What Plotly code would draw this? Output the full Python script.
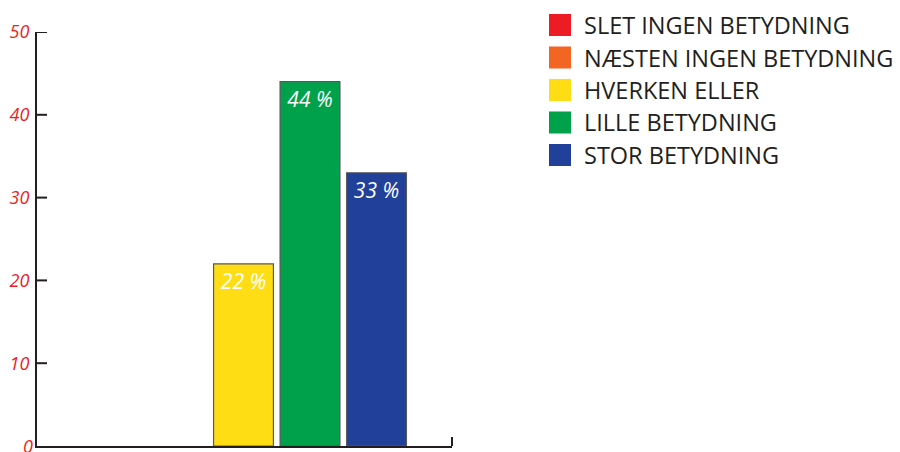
import plotly.graph_objects as go

categories = ["SLET INGEN BETYDNING", "NÆSTEN INGEN BETYDNING", "HVERKEN ELLER",
              "LILLE BETYDNING", "STOR BETYDNING"]
values = [0, 0, 22, 44, 33]
colors = ["#ED1C24", "#F26522", "#FFDD15", "#00A14B", "#21409A"]
y_ticks = [0, 10, 20, 30, 40, 50]

W, H = 900, 452
L, R, T, B = 37, 452, 32, 446  # plot area in pixels

fig = go.Figure()
xs = list(range(len(categories)))
labels = [f"{v} %" if v > 0 else "" for v in values]
line_w = [1.2 if v > 0 else 0 for v in values]
fig.add_trace(go.Bar(
    x=xs, y=values, marker=dict(color=colors, line=dict(color="#58595B", width=line_w)),
    width=0.9, text=labels, textposition="inside", insidetextanchor="end",
    textangle=0,
    textfont=dict(family="Open Sans", size=21, color="white", style="italic"),
    cliponaxis=False, hoverinfo="skip", showlegend=False,
))

shapes = []
annotations = []
pw = R - L
ph = B - T
def px(xp):
    return (xp - L) / pw
def py(yp):
    return (B - yp) / ph

# legend
leg_x0, leg_sq = 549, 22
leg_y0, leg_dy = 14, 32.5
for i, (c, col) in enumerate(zip(categories, colors)):
    y0 = leg_y0 + i * leg_dy
    shapes.append(dict(type="rect", xref="paper", yref="paper",
                       x0=px(leg_x0), x1=px(leg_x0 + leg_sq), y0=py(y0 + leg_sq), y1=py(y0),
                       fillcolor=col, line=dict(width=0)))
    annotations.append(dict(xref="paper", yref="paper", x=px(582), y=py(y0 + leg_sq / 2),
                            text=c, showarrow=False, xanchor="left", yanchor="middle",
                            font=dict(family="Open Sans", size=23.5, color="#231F20")))

# inward y ticks (drawn as short lines at the tick values)
for t in y_ticks[1:]:
    shapes.append(dict(type="line", xref="paper", yref="y", x0=0, x1=10 / pw, y0=t, y1=t,
                       line=dict(color="#231F20", width=2)))
# bottom tick label (sits at the figure's lower edge)
annotations.append(dict(xref="paper", yref="y", x=0, y=y_ticks[0], xshift=-2, text=str(y_ticks[0]),
                        showarrow=False, xanchor="right", yanchor="middle",
                        font=dict(family="Open Sans", size=18, color="#ED1C24", style="italic")))

# right end tick of x axis
shapes.append(dict(type="line", xref="paper", yref="paper", x0=1, x1=1, y0=0, y1=py(437),
                   line=dict(color="#231F20", width=2)))

fig.update_layout(
    width=W, height=H, margin=dict(l=L, r=W - R, t=T, b=H - B, pad=0),
    plot_bgcolor="white", paper_bgcolor="white",
    shapes=shapes, annotations=annotations, bargap=0,
    xaxis=dict(range=[-1.105, 5.135], showticklabels=False, ticks="", showgrid=False,
               zeroline=False, showline=True, linecolor="#231F20", linewidth=2, fixedrange=True),
    yaxis=dict(range=[0, 50], tickvals=y_ticks[1:], ticks="", showgrid=False, zeroline=False,
               showline=True, linecolor="#231F20", linewidth=2, ticklabelstandoff=2,
               fixedrange=True,
               tickfont=dict(family="Open Sans", size=18, color="#ED1C24", style="italic")),
)
fig.write_html("out.html", config={"displayModeBar": False, "staticPlot": True},
               post_script="document.body.style.margin='0';document.body.style.overflow='hidden';")
